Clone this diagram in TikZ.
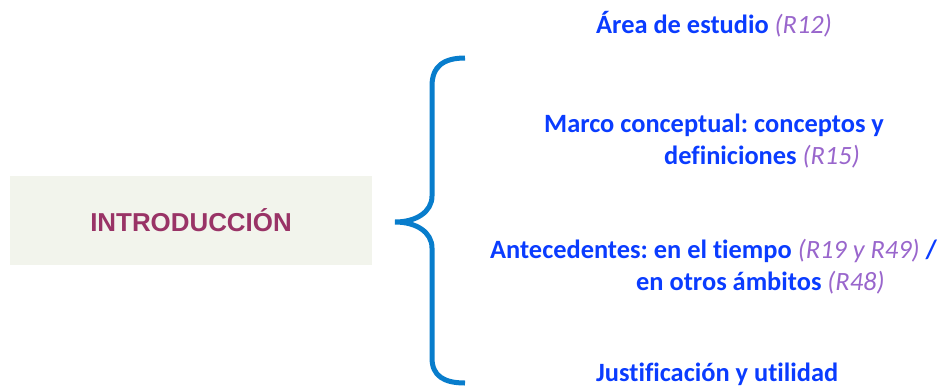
\documentclass[tikz,border=0pt]{standalone}
\usepackage{fontspec}
\setmainfont{Carlito}[Ligatures=NoCommon]
\newfontfamily\arialfont{Liberation Sans}
\frenchspacing
\definecolor{txtblue}{RGB}{10,60,255}
\definecolor{refpurple}{RGB}{153,102,204}
\definecolor{bracecol}{RGB}{8,125,204}
\definecolor{boxfill}{RGB}{242,244,236}
\definecolor{introcol}{RGB}{153,51,102}
\tikzset{
  item/.style={anchor=base west,inner sep=0pt,text=txtblue,font=\fontsize{26.5}{30}\selectfont\bfseries},
  intro/.style={fill=boxfill,minimum width=362bp,minimum height=89bp,inner sep=0pt,text=introcol,font=\arialfont\fontsize{26}{30}\selectfont\bfseries},
}
\newcommand{\refR}[1]{{\mdseries\itshape\color{refpurple}#1}}
\begin{document}
\begin{tikzpicture}[x=1bp,y=-1bp]
\useasboundingbox (0,0) rectangle (945,385);
\node[intro] (intro) at (191,220.5) {INTRODUCCIÓN};
\draw[bracecol,line width=5bp]
  (465,58) .. controls (444,58) and (432,66) .. (432,86) -- (432,196)
  .. controls (432,212) and (416,222) .. (395,222)
  .. controls (416,222) and (432,232) .. (432,248) -- (432,358)
  .. controls (432,376) and (444,383) .. (465,383);
\node[item] (a) at (596,33) {Área de estudio \refR{(R12)}};
\node[item] (b1) at (544,132) {Marco conceptual: conceptos y};
\node[item] (b2) at (664,164) {definiciones \refR{(R15)}};
\node[item] (c1) at (490,258) {Antecedentes: en el tiempo \refR{(R19 y R49)} /};
\node[item] (c2) at (636,290) {en otros ámbitos \refR{(R48)}};
\node[item] (d) at (596,381) {Justificación y utilidad};
\end{tikzpicture}
\end{document}
